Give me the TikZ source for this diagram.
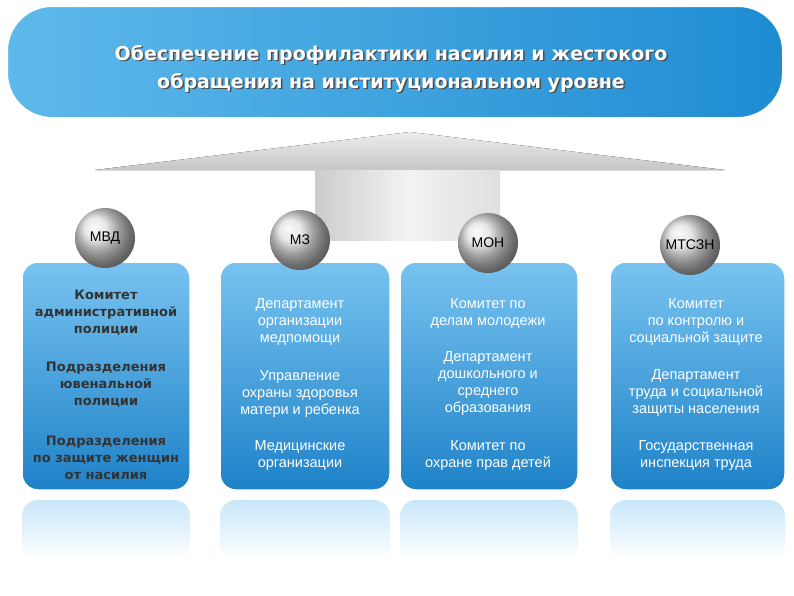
\documentclass[tikz,border=0pt]{standalone}
\usepackage{fontspec}
\setmainfont{Liberation Sans}
\newfontfamily\djvfont{DejaVu Sans}
\definecolor{bA}{RGB}{120,195,240}
\definecolor{bB}{RGB}{30,130,200}
\definecolor{tA}{RGB}{95,185,235}
\definecolor{tB}{RGB}{30,140,210}
\begin{document}
\begin{tikzpicture}[x=1pt,y=-1pt,
 col/.style={rounded corners=16pt,draw=white,line width=1.5pt,top color=bA,bottom color=bB},
 refl/.style={rounded corners=16pt,top color=bA!40,bottom color=white},
 circ/.style={circle,minimum size=60pt,inner sep=0pt,ball color=gray!25,font=\fontsize{14}{16}\selectfont,text=black},
 t1/.style={align=center,font=\djvfont\bfseries\fontsize{13}{17}\selectfont,text=black!80},
 tw/.style={align=center,font=\fontsize{14.5}{17}\selectfont,text=white}]
\useasboundingbox (0,0) rectangle (794,595);
\fill[white] (0,0) rectangle (794,595);
% banner
\node[draw=white,line width=2pt,rounded corners=45pt,minimum width=776pt,minimum height=112pt,left color=tA,right color=tB] (ban) at (395,62) {};
\node[text=black!70,align=center,font=\djvfont\bfseries\fontsize{19}{28}\selectfont] at (392.5,70.5) {Обеспечение профилактики насилия и жестокого\\обращения на институциональном уровне};
\node[text=white,align=center,font=\djvfont\bfseries\fontsize{19}{28}\selectfont] (bt) at (391,69) {Обеспечение профилактики насилия и жестокого\\обращения на институциональном уровне};
% roof
\fill[top color=gray!15,bottom color=gray!45] (95,170) -- (410,132) -- (725,170) -- cycle;
\fill[left color=gray!40,right color=gray!25,middle color=gray!10] (315,170) rectangle (500,240);
% columns
\foreach \a/\b/\n in {22/190/c1,220/390/c2,400/578/c3,610/785/c4}{
 \path[refl] (\a,500) rectangle (\b,560);
 \draw[col] (\a,262) rectangle (\b,490);
 \node (\n) at ({(\a+\b)/2},376) {};
}
\node[circ] (m1) at (105,238) {МВД};
\node[circ] (m2) at (300,240) {МЗ};
\node[circ] (m3) at (488,243) {МОН};
\node[circ] (m4) at (690,245) {МТСЗН};
\node[t1] (a1) at (106,313) {Комитет\\административной\\полиции};
\node[t1] (a2) at (106,385) {Подразделения\\ювенальной\\полиции};
\node[t1] (a3) at (106,458) {Подразделения\\по защите женщин\\от насилия};
\node[tw] (b1) at (300,322) {Департамент\\организации\\медпомощи};
\node[tw] (b2) at (300,394) {Управление\\охраны здоровья\\матери и ребенка};
\node[tw] (b3) at (300,456) {Медицинские\\организации};
\node[tw] (c1t) at (488,313) {Комитет по\\делам молодежи};
\node[tw] (c2t) at (488,384) {Департамент\\дошкольного и\\среднего\\образования};
\node[tw] (c3t) at (488,456) {Комитет по\\охране прав детей};
\node[tw] (d1) at (696,322) {Комитет\\по контролю и\\социальной защите};
\node[tw] (d2) at (696,393) {Департамент\\труда и социальной\\защиты населения};
\node[tw] (d3) at (696,456) {Государственная\\инспекция труда};
\end{tikzpicture}
\end{document}
